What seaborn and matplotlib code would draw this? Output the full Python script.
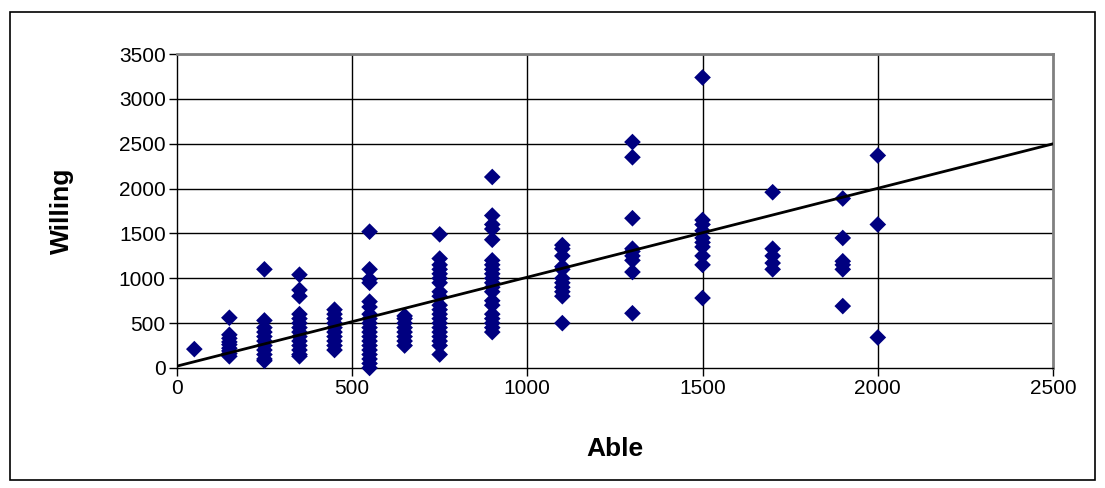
import matplotlib
matplotlib.use("Agg")
import matplotlib.pyplot as plt
import seaborn as sns
import pandas as pd
from matplotlib.patches import Rectangle

# --- data ---
able_levels = [50, 150, 250, 350, 450, 550, 650, 750, 900, 1100, 1300, 1500, 1700, 1900, 2000]
willing_50 = [210]
willing_150 = [560, 370, 330, 290, 260, 220, 190, 160, 130]
willing_250 = [1100, 530, 450, 400, 350, 300, 250, 200, 150, 100, 80]
willing_350 = [1040, 870, 800, 600, 550, 500, 450, 400, 350, 300, 250, 200, 150, 130]
willing_450 = [650, 600, 550, 500, 450, 400, 350, 300, 250, 200]
willing_550 = [1520, 1100, 990, 950, 740, 680, 600, 550, 500, 450, 400, 350, 300, 250, 200, 150, 100, 50, 0]
willing_650 = [580, 550, 500, 450, 400, 350, 300, 250]
willing_750 = [1490, 1220, 1150, 1100, 1050, 1000, 950, 850, 800, 700, 650, 600, 550, 500, 450, 400, 350, 300, 250, 150]
willing_900 = [2130, 1700, 1600, 1550, 1430, 1200, 1150, 1100, 1050, 1000, 950, 900, 850, 750, 700, 600, 550, 500, 450, 400]
willing_1100 = [1370, 1330, 1250, 1130, 1100, 1000, 950, 900, 850, 800, 500]
willing_1300 = [2520, 2350, 1670, 1330, 1300, 1250, 1200, 1070, 610]
willing_1500 = [3240, 1650, 1600, 1530, 1450, 1400, 1350, 1250, 1150, 780]
willing_1700 = [1960, 1330, 1250, 1170, 1100]
willing_1900 = [1890, 1450, 1190, 1150, 1100, 690]
willing_2000 = [2370, 1600, 340]
willing_groups = [willing_50, willing_150, willing_250, willing_350, willing_450, willing_550,
                  willing_650, willing_750, willing_900, willing_1100, willing_1300, willing_1500,
                  willing_1700, willing_1900, willing_2000]

line_x = [0, 2500]
line_y = [20, 2500]

x_ticks = [0, 500, 1000, 1500, 2000, 2500]
y_ticks = [0, 500, 1000, 1500, 2000, 2500, 3000, 3500]

rows = []
for a, ws in zip(able_levels, willing_groups):
    for w in ws:
        rows.append((a, w))
df = pd.DataFrame(rows, columns=["Able", "Willing"])

sns.set_style("white")
plt.rcParams['font.family'] = ['Liberation Sans', 'DejaVu Sans']
plt.rcParams['text.color'] = 'black'
plt.rcParams['axes.labelcolor'] = 'black'
plt.rcParams['xtick.color'] = 'black'
plt.rcParams['ytick.color'] = 'black'

fig = plt.figure(figsize=(11.05, 4.88), dpi=100)
ax = fig.add_axes([0.160, 0.246, 0.793, 0.643])

for yt in y_ticks[1:]:
    ax.axhline(yt, color="black", lw=1.0, zorder=1)
for xt in x_ticks[1:-1]:
    ax.axvline(xt, color="black", lw=1.0, zorder=1)

sns.scatterplot(data=df, x="Able", y="Willing", marker="D", s=72, color="#000080",
                edgecolor="none", linewidth=0, ax=ax, zorder=3, clip_on=False)
sns.lineplot(x=line_x, y=line_y, color="black", lw=2, ax=ax, zorder=4)

ax.set_xlim(0, 2500)
ax.set_ylim(0, 3500)
ax.set_xticks(x_ticks)
ax.set_yticks(y_ticks)
ax.tick_params(axis="both", direction="out", length=6, width=1, color="black",
               labelsize=15, pad=2, bottom=True, left=True, labelcolor="black")
for sp in ax.spines.values():
    sp.set_color("#808080")
    sp.set_linewidth(2)
ax.spines["left"].set_color("black")
ax.spines["left"].set_linewidth(1)
ax.spines["bottom"].set_color("black")
ax.spines["bottom"].set_linewidth(1)

ax.set_xlabel("Able", fontsize=19, fontweight="bold", labelpad=28, color="black")
ax.set_ylabel("Willing", fontsize=19, fontweight="bold", labelpad=32, color="black")

fig.patches.append(Rectangle((10 / 1105, 8 / 488), 1085 / 1105, 468 / 488,
                             transform=fig.transFigure, fill=False,
                             edgecolor="black", lw=1.2))

fig.savefig("out.png", dpi=100, facecolor="white")
